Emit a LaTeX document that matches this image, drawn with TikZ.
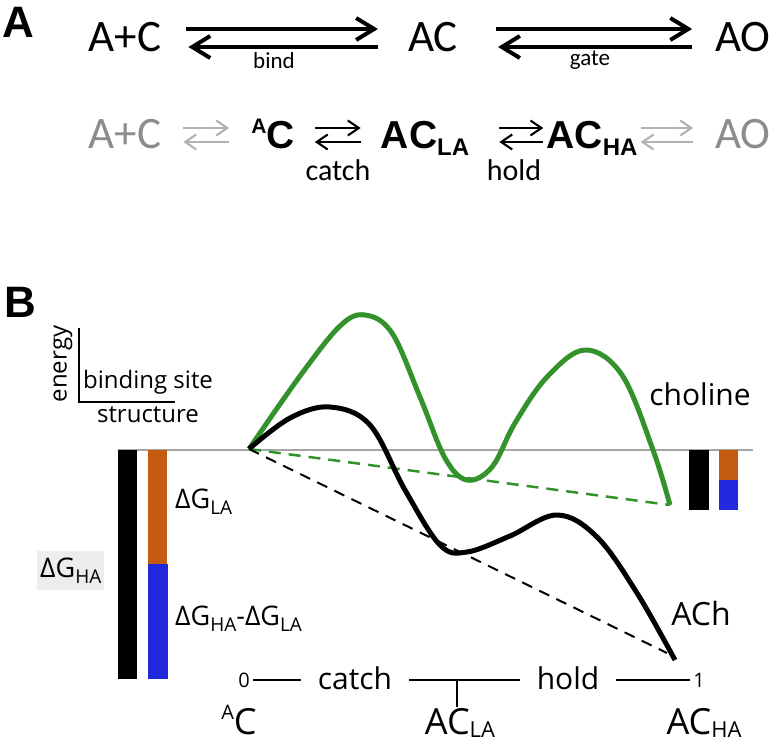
\documentclass[tikz,border=0pt]{standalone}
\usepackage{fontspec}
\setmainfont{Carlito}
\newfontfamily\osans{Open Sans}
\newfontfamily\arial{Liberation Sans}
\usetikzlibrary{arrows.meta}

\definecolor{curvegreen}{RGB}{52,146,44}
\definecolor{barorange}{RGB}{197,90,17}
\definecolor{barblue}{RGB}{34,40,220}

\newcommand{\fsz}[1]{\fontsize{#1}{#1}\selectfont}
\newcommand{\subx}[3][0.2em]{\raisebox{-#1}{\fsz{#2}#3}}
\newcommand{\supx}[3][0.4em]{\raisebox{#1}{\fsz{#2}#3}}

\begin{document}
\begin{tikzpicture}[
	x=1pt, y=-1pt,
	every node/.style={ inner sep=0pt },
	panel/.style={ font=\arial\bfseries\fsz{44} },
	rowone/.style={ font=\fsz{45} },
	rowtwo/.style={ font=\arial\bfseries\fsz{39} },
	rowgray/.style={ font=\fsz{45}, text=black!45 },
	steplbl/.style={ font=\fsz{23} },
	bigarr/.style={ line width=4pt, -{Straight Barb[length=18pt,width=22pt]} },
	smallarr/.style={ line width=2.1pt, -{Straight Barb[length=11pt,width=15pt]} },
	smallgray/.style={ smallarr, black!30 },
	axislbl/.style={ font=\osans\fsz{24} },
	wordlbl/.style={ font=\osans\fsz{30}, inner xsep=17pt },
	numlbl/.style={ font=\osans\fsz{20}, inner xsep=3pt },
	statelbl/.style={ font=\osans\fsz{36} },
	dglbl/.style={ font=\osans\fsz{27} }
]
\useasboundingbox (0,0) rectangle (776,744);

% panel A
\node[panel] at (18,22) (la) {A};
\node[rowone, anchor=base] at (125,51) (apc) {A+C};
\node[rowone, anchor=base] at (433,51) (ac) {AC};
\node[rowone, anchor=base] at (743,51) (ao) {AO};
\draw[bigarr] ([shift={(25,-22)}]apc.base east) -- ([shift={(-30,-22)}]ac.base west);
\draw[bigarr] ([shift={(-30,-4)}]ac.base west) -- ([shift={(27,-4)}]apc.base east);
\draw[bigarr] ([shift={(38,-22)}]ac.base east) -- ([shift={(-23,-22)}]ao.base west);
\draw[bigarr] ([shift={(-23,-4)}]ao.base west) -- ([shift={(40,-4)}]ac.base east);
\node[steplbl] at (274,60.5) (bind) {bind};
\node[steplbl] at (590,60.5) (gate) {gate};

\node[rowgray, anchor=base] at (125,148) (r2apc) {A+C};
\node[rowtwo, anchor=base] at (273,148) (r2c) {\supx[0.36em]{21}{A}C};
\node[rowtwo, anchor=base] at (425,148) (r2la) {AC\subx{24}{LA}};
\node[rowtwo, anchor=base] at (592,148) (r2ha) {AC\subx{24}{HA}};
\node[rowgray, anchor=base] at (743,148) (r2ao) {AO};
\draw[smallgray] ([shift={(22,-20)}]r2apc.base east) -- ([shift={(-22,-20)}]r2c.base west);
\draw[smallgray] ([shift={(-22,-6)}]r2c.base west) -- ([shift={(22,-6)}]r2apc.base east);
\draw[smallarr] ([shift={(20,-20)}]r2c.base east) -- ([shift={(-20,-20)}]r2la.base west);
\draw[smallarr] ([shift={(-20,-6)}]r2la.base west) -- ([shift={(20,-6)}]r2c.base east);
\draw[smallarr] ([shift={(30,-20)}]r2la.base east) -- ([shift={(-3,-20)}]r2ha.base west);
\draw[smallarr] ([shift={(-3,-6)}]r2ha.base west) -- ([shift={(30,-6)}]r2la.base east);
\draw[smallgray] ([shift={(3,-20)}]r2ha.base east) -- ([shift={(-22,-20)}]r2ao.base west);
\draw[smallgray] ([shift={(-22,-6)}]r2ao.base west) -- ([shift={(3,-6)}]r2ha.base east);
\node[font=\fsz{30}] at (338,170) (catchA) {catch};
\node[font=\fsz{30}] at (514,170) (holdA) {hold};

% panel B
\node[panel] at (20,302) (lb) {B};
\node[axislbl, rotate=90] at (63,364) (energy) {energy};
\node[axislbl, anchor=base] at (148,388) (site) {binding site};
\node[axislbl] at (148,415) (struct) {structure};
\draw[line width=1.3pt] (79,328) -- (79,402) -- (175,402);

\coordinate (c0) at (249,449);
\coordinate (gend) at (670,505);
\coordinate (bend) at (667,653);
\draw[black!35, line width=1.3pt] (118,450) -- (753,450);
\draw[curvegreen, line width=2.5pt, dash pattern=on 12pt off 8pt] (c0) -- (gend);
\draw[line width=2pt, dash pattern=on 11pt off 8pt] (c0) -- (bend);
\draw[curvegreen, line width=5pt, line join=round] plot[smooth, tension=0.6] coordinates {
	(249,449) (300,376) (340,326) (365,315) (392,333) (420,397) (445,458) (467,480)
	(492,467) (515,423) (547,377) (585,350) (622,375) (653,450) (670,505)};
\draw[line width=5pt, line join=round] plot[smooth, tension=0.6] coordinates {
	(249,449) (290,418) (330,407) (370,425) (405,490) (440,545) (467,552) (510,536)
	(557,515) (597,537) (637,593) (675,660)};

\fill[black] (118,450) rectangle (137,679);
\fill[barorange] (148,450) rectangle (167,564);
\fill[barblue] (148,564) rectangle (168,679);
\fill[black] (689,450) rectangle (709,510);
\fill[barorange] (719,450) rectangle (738,480);
\fill[barblue] (719,480) rectangle (738,510);

\node[dglbl, anchor=base west] at (175,508) (dgla) {ΔG\subx[0.25em]{19}{LA}};
\node[dglbl, anchor=base west, fill=black!7, inner xsep=3pt, inner ysep=6pt] at (37,577) (dgha) {ΔG\subx[0.25em]{19}{HA}};
\node[dglbl, anchor=base west] at (175,625) (dgdiff) {ΔG\subx[0.25em]{19}{HA}-ΔG\subx[0.25em]{19}{LA}};
\node[font=\osans\fsz{30}, anchor=base] at (700,405) (chol) {choline};
\node[font=\osans\fsz{32}, anchor=base] at (701,625) (ach) {ACh};

\node[numlbl] at (244,680) (zero) {0};
\node[wordlbl] at (355,678.5) (catchB) {catch};
\node[wordlbl] at (568,678.5) (holdB) {hold};
\node[numlbl] at (699,680) (one) {1};
\draw[line width=1.5pt] (zero.east) -- (zero.east -| catchB.west);
\draw[line width=1.5pt] (catchB.east |- zero.east) -- (holdB.west |- zero.east);
\draw[line width=1.5pt] (holdB.east |- zero.east) -- (one.west);
\coordinate (tk) at (457,680);
\draw[line width=1.3pt] (tk) -- ++(0,27);
\node[statelbl, anchor=base] at (239,734) (sc) {\supx{20}{A}C};
\node[statelbl, anchor=base] at (460,734) (sla) {AC\subx[0.1em]{22}{LA}};
\node[statelbl, anchor=base] at (704,734) (sha) {AC\subx[0.1em]{22}{HA}};

\end{tikzpicture}
\end{document}
